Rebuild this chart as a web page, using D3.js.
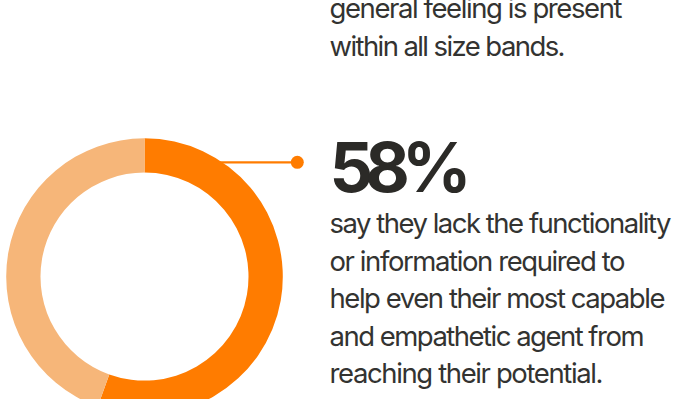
<!DOCTYPE html>
<html>
<head>
<meta charset="utf-8">
<script src="https://cdn.jsdelivr.net/npm/d3@7"></script>
<style>
  body { margin: 0; background: #fff; overflow: hidden; }
  svg { display: block; }
</style>
</head>
<body>
<svg width="674" height="399"></svg>
<script>
const labels = ["lack", "rest"];
const values = [55.5, 44.5];
const colors = ["#ff7c00", "#f6b679"];
const headline = "58%";

// Text lines (widths)
const introLines = ["general feeling is present", "within all size bands."];
const introWidths = [293, 236];
const bodyLines = [
  "say they lack the functionality",
  "or information required to",
  "help even their most capable",
  "and empathetic agent from",
  "reaching their potential."
];
const bodyWidths = [342, 296, 336, 315, 274];

const svg = d3.select("svg");

// Donut
//-----------------------------------------------------------//
const cx = 144.5, cy = 276.6;
const outerR = 138.3, innerR = 104;

const pie = d3.pie().sort(null).value(d => d)(values);
const arc = d3.arc().innerRadius(innerR).outerRadius(outerR);

// Leader line + dot (drawn under the ring)
const lineY = 162.3;
const lineX0 = cx + Math.sqrt(outerR * outerR - (lineY - cy) * (lineY - cy)) - 4;
svg.append("line")
  .attr("x1", lineX0).attr("x2", 297.3)
  .attr("y1", lineY).attr("y2", lineY)
  .style("stroke", colors[0])
  .style("stroke-width", 2.2);
svg.append("circle")
  .attr("cx", 297.3).attr("cy", lineY).attr("r", 6.5)
  .style("fill", colors[0]);

svg.append("g")
  .attr("transform", `translate(${cx},${cy})`)
  .selectAll("path")
  .data(pie)
  .join("path")
  .attr("d", arc)
  .style("fill", (d, i) => colors[i]);

// Texts
//-----------------------------------------------------------//
const textX = 329.5;
const font = "Inter, 'Noto Sans', sans-serif";

introLines.forEach((t, i) => {
  svg.append("text")
    .attr("x", textX).attr("y", 18.3 + i * 37.3)
    .attr("textLength", introWidths[i])
    .attr("lengthAdjust", "spacing")
    .style("font-family", font)
    .style("font-size", "27.5px")
    .style("fill", "#333331")
    .text(t);
});

svg.append("text")
  .attr("x", textX).attr("y", 191.7)
  .attr("textLength", 142)
  .attr("lengthAdjust", "spacing")
  .style("font-family", font)
  .style("font-weight", 700)
  .style("font-size", "68.5px")
  .style("fill", "#2b2a27")
  .text(headline);

bodyLines.forEach((t, i) => {
  svg.append("text")
    .attr("x", textX).attr("y", 233.3 + i * 37.5)
    .attr("textLength", bodyWidths[i])
    .attr("lengthAdjust", "spacing")
    .style("font-family", font)
    .style("font-size", "27.5px")
    .style("fill", "#333331")
    .text(t);
});
</script>
</body>
</html>
